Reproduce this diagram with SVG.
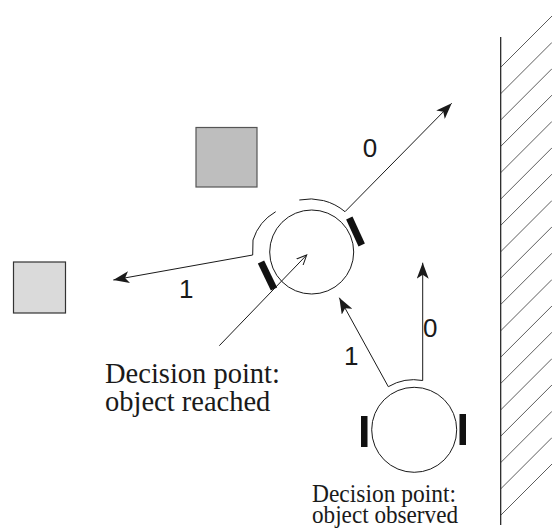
<svg xmlns="http://www.w3.org/2000/svg" width="552" height="529" viewBox="0 0 552 529">
  <style>
    .ln { fill: none; stroke: #1a1a1a; stroke-width: 1; }
    .wheel { stroke: #111; stroke-width: 7; stroke-linecap: butt; }
    .lbl { font-family: "Liberation Sans", Arial, sans-serif; font-size: 26px; fill: #1a1a1a; }
    .cap { font-family: "Liberation Serif", "Times New Roman", serif; font-size: 28.5px; fill: #1a1a1a; }
    .cap-sm { font-family: "Liberation Serif", "Times New Roman", serif; font-size: 25px; fill: #1a1a1a; }
    .hatch { stroke: #333; stroke-width: 0.8; }
  </style>
  <defs>
    <marker id="head" viewBox="0 0 16 12" refX="16" refY="6" markerWidth="16" markerHeight="12" markerUnits="userSpaceOnUse" orient="auto">
      <path d="M0,0 L16,6 L0,12 L4,6 z" fill="#1a1a1a"/>
    </marker>
    <marker id="open" viewBox="0 0 11 10" refX="10" refY="5" markerWidth="11" markerHeight="10" markerUnits="userSpaceOnUse" orient="auto">
      <path d="M0,0.5 L10,5 L0,9.5" fill="none" stroke="#1a1a1a" stroke-width="1"/>
    </marker>
  </defs>

  <!-- wall with hatching -->
  <g id="wall">
    <line x1="500.7" y1="37" x2="500.7" y2="525" stroke="#1a1a1a" stroke-width="1.2"/>
    <g class="hatch">
      <line x1="500.7" y1="67.3" x2="552" y2="16"/>
      <line x1="500.7" y1="93.7" x2="552" y2="42.4"/>
      <line x1="500.7" y1="120" x2="552" y2="68.7"/>
      <line x1="500.7" y1="146.4" x2="552" y2="95.1"/>
      <line x1="500.7" y1="172.7" x2="552" y2="121.4"/>
      <line x1="500.7" y1="199.1" x2="552" y2="147.8"/>
      <line x1="500.7" y1="225.4" x2="552" y2="174.1"/>
      <line x1="500.7" y1="251.8" x2="552" y2="200.5"/>
      <line x1="500.7" y1="278.1" x2="552" y2="226.8"/>
      <line x1="500.7" y1="304.5" x2="552" y2="253.2"/>
      <line x1="500.7" y1="330.8" x2="552" y2="279.5"/>
      <line x1="500.7" y1="357.2" x2="552" y2="305.9"/>
      <line x1="500.7" y1="383.5" x2="552" y2="332.2"/>
      <line x1="500.7" y1="409.9" x2="552" y2="358.6"/>
      <line x1="500.7" y1="436.2" x2="552" y2="384.9"/>
      <line x1="500.7" y1="462.6" x2="552" y2="411.3"/>
      <line x1="500.7" y1="488.9" x2="552" y2="437.6"/>
      <line x1="500.7" y1="515.3" x2="552" y2="464"/>
    </g>
  </g>

  <!-- objects -->
  <g id="object-far">
    <rect x="196" y="127.5" width="61" height="59.5" fill="#bebebe" stroke="#555" stroke-width="1.2"/>
  </g>
  <g id="object-left">
    <rect x="13.5" y="262" width="52" height="51" fill="#dadada" stroke="#333" stroke-width="1.2"/>
  </g>

  <!-- robot at the point where the object is reached -->
  <g id="robot-reached">
    <circle cx="311.7" cy="252" r="42" class="ln"/>
    <path class="ln" d="M299.3,200 A54,54 0 0 1 345,211.7"/>
    <path class="ln" d="M275.7,211.7 A50,50 0 0 0 253,240 L252.7,255"/>
    <line class="wheel" x1="349.3" y1="218" x2="361.7" y2="245"/>
    <line class="wheel" x1="261" y1="262" x2="274" y2="289"/>
  </g>

  <!-- robot at the point where the object is observed -->
  <g id="robot-observed">
    <circle cx="414.2" cy="429.8" r="42.5" class="ln"/>
    <path class="ln" d="M388.3,386.7 A50,50 0 0 1 422.7,380.5"/>
    <rect x="361" y="416" width="6.5" height="31" fill="#111"/>
    <rect x="459.5" y="414" width="6.5" height="31" fill="#111"/>
  </g>

  <!-- connectors -->
  <g id="connectors">
    <line class="ln" x1="345" y1="211.7" x2="451.7" y2="103.3" marker-end="url(#head)"/>
    <line class="ln" x1="252.7" y1="255" x2="113.3" y2="280" marker-end="url(#head)"/>
    <line class="ln" x1="388.3" y1="386.7" x2="339.3" y2="297.7" marker-end="url(#head)"/>
    <line class="ln" x1="422.7" y1="380.5" x2="422.7" y2="262.7" marker-end="url(#head)"/>
    <line class="ln" x1="219.3" y1="345.7" x2="306.7" y2="255" marker-end="url(#open)"/>
  </g>

  <!-- branch labels -->
  <g id="labels">
    <text class="lbl" x="370" y="156.7" text-anchor="middle">0</text>
    <text class="lbl" x="179" y="298.3">1</text>
    <text class="lbl" x="344" y="365">1</text>
    <text class="lbl" x="430.3" y="337.3" text-anchor="middle">0</text>
  </g>

  <!-- captions -->
  <g id="caption-reached">
    <text class="cap" x="105" y="383">Decision point:</text>
    <text class="cap" x="105" y="411">object reached</text>
  </g>
  <g id="caption-observed">
    <text class="cap-sm" x="312" y="502" textLength="144" lengthAdjust="spacingAndGlyphs">Decision point:</text>
    <text class="cap-sm" x="312" y="523" textLength="146" lengthAdjust="spacingAndGlyphs">object observed</text>
  </g>
</svg>
